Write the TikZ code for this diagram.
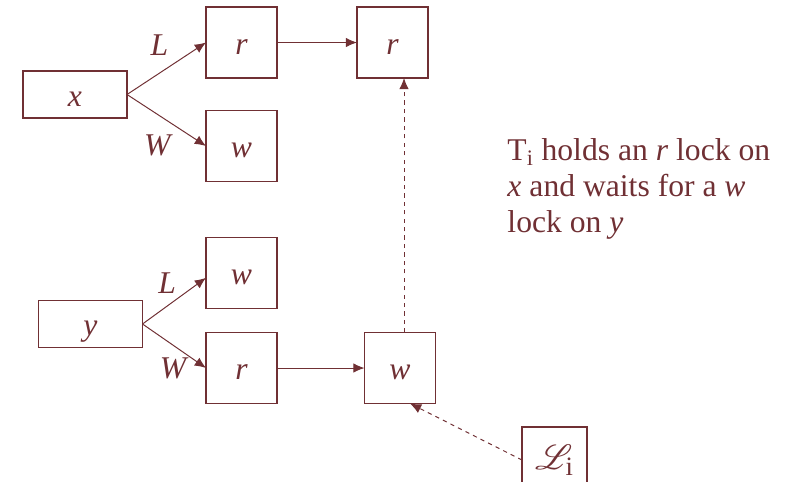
\documentclass[tikz,border=0pt]{standalone}
\usepackage{fontspec}
\setmainfont{Liberation Serif}
\usepackage{mathrsfs}
\usetikzlibrary{arrows.meta}
\definecolor{lockred}{RGB}{112,48,52}
\tikzset{>={Latex[width=2.4mm,length=2.8mm]}}
\tikzset{lockbox/.style={draw=lockred, line width=1pt, inner sep=0pt, outer sep=0pt,
    minimum width=1.775cm, minimum height=1.775cm, text height=18pt, text depth=1.6pt}}
\tikzset{itembox/.style={lockbox, minimum width=2.6cm, minimum height=1.175cm}}

\begin{document}
\begin{tikzpicture}[x=0.025cm, y=-0.025cm, lockred, line width=0.7pt,
    font=\fontsize{22.5}{25.5}\selectfont]
    \clip (0,0) rectangle (788,481);
    % data items and their lock queues
    \node[itembox] (x) at (75,94.5) {\textit{x}};
    \node[lockbox] (xr) at (241.5,42.5) {\textit{r}};
    \node[lockbox] (xw) at (241.5,146) {\textit{w}};
    \node[lockbox] (rr) at (392.5,42.5) {\textit{r}};
    \node[itembox] (y) at (90.5,324) {\textit{y}};
    \node[lockbox] (yw) at (241.5,273) {\textit{w}};
    \node[lockbox] (yr) at (241.5,368) {\textit{r}};
    \node[lockbox] (wb) at (400,368) {\textit{w}};
    \node[lockbox, minimum width=1.625cm, minimum height=1.65cm, text height=, text depth=,
        font=\fontsize{27}{30}\selectfont] (Li) at (554.5,460) {$\mathscr{L}_{\mathrm{i}}$};
    \node[anchor=north west, align=left, inner sep=0pt] (note) at (507,138)
        {T\textsubscript{i} holds an \textit{r} lock on\\
         \textit{x} and waits for a \textit{w}\\
         lock on \textit{y}};
    \draw[->] (x.east) -- node[midway, shift={(-7,-23)}] {\textit{L}} (xr.west);
    \draw[->] (x.east) -- node[midway, shift={(-8,25)}] {\textit{W}} (xw.west);
    \draw[->] (xr) -- (rr);
    \draw[->] (y.east) -- node[midway, shift={(-7,-18)}] {\textit{L}} ([yshift=-0.12cm]yw.west);
    \draw[->] (y.east) -- node[midway, shift={(0,22)}] {\textit{W}} (yr.west);
    \draw[->] (yr) -- (wb);
    \draw[->, dashed] ([xshift=0.1cm]wb.north) -- ([xshift=0.1cm]wb.north |- rr.south);
    \draw[->, dashed] (Li.west) -- ([xshift=0.25cm]wb.south);
\end{tikzpicture}
\end{document}
